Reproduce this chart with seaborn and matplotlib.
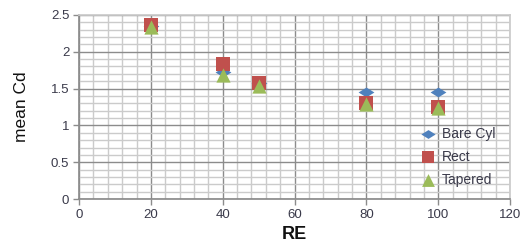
import pandas as pd
import matplotlib
matplotlib.use("Agg")
import matplotlib.pyplot as plt
from matplotlib.ticker import MultipleLocator
from matplotlib.path import Path
import seaborn as sns

# data
re_vals = [20, 40, 50, 80, 100]
bare_cyl = [2.35, 1.72, 1.57, 1.45, 1.45]
rect = [2.36, 1.83, 1.58, 1.30, 1.25]
tapered = [2.34, 1.68, 1.54, 1.29, 1.23]
series_names = ["Bare Cyl", "Rect", "Tapered"]

df = pd.DataFrame({
    "RE": re_vals * 3,
    "Cd": bare_cyl + rect + tapered,
    "series": [s for s in series_names for _ in re_vals],
})

sns.set_theme(style="white")
plt.rcParams["font.family"] = ["Liberation Sans", "DejaVu Sans"]

fig = plt.figure(figsize=(5.27, 2.44), dpi=100)
ax = fig.add_axes([0.150, 0.184, 0.818, 0.755])

# flat Excel-style diamond
diamond = Path([(-1, 0), (0, 0.62), (1, 0), (0, -0.62), (-1, 0)],
               [Path.MOVETO, Path.LINETO, Path.LINETO, Path.LINETO, Path.CLOSEPOLY])

colors = {"Bare Cyl": "#4f81bd", "Rect": "#c0504d", "Tapered": "#9bbb59"}
markers = {"Bare Cyl": diamond, "Rect": "s", "Tapered": "^"}
sizes = {"Bare Cyl": 130, "Rect": 100, "Tapered": 105}

for name in series_names:
    sub = df[df["series"] == name]
    sns.scatterplot(data=sub, x="RE", y="Cd", ax=ax, color=colors[name],
                    marker=markers[name], s=sizes[name], linewidth=0,
                    label=name, zorder=3)

ax.set_xlim(0, 120)
ax.set_ylim(0, 2.5)
ax.xaxis.set_major_locator(MultipleLocator(20))
ax.xaxis.set_minor_locator(MultipleLocator(4))
ax.yaxis.set_major_locator(MultipleLocator(0.5))
ax.yaxis.set_minor_locator(MultipleLocator(0.1))
ax.set_yticks([0, 0.5, 1, 1.5, 2, 2.5])
ax.set_yticklabels(["0", "0.5", "1", "1.5", "2", "2.5"])

ax.grid(which="minor", color="#cbcbcb", linewidth=1.0, zorder=0)
ax.grid(which="major", color="#8c8c8c", linewidth=1.0, zorder=0)
ax.set_axisbelow(True)

for side in ["left", "bottom"]:
    ax.spines[side].set_color("#8c8c8c")
for side in ["top", "right"]:
    ax.spines[side].set_color("#cbcbcb")

ax.tick_params(axis="both", which="major", length=4, width=1, color="#8c8c8c",
               labelsize=9.5, labelcolor="#3a3a4a", direction="out",
               bottom=True, left=True, pad=3)
ax.tick_params(which="minor", length=0)

ax.set_xlabel("RE", fontsize=13, fontweight="bold", color="#111111", labelpad=4)
ax.set_ylabel("mean Cd", fontsize=12.5, color="#111111", labelpad=16)

leg = ax.legend(loc="lower right", bbox_to_anchor=(0.985, 0.02), frameon=False,
                fontsize=10, handletextpad=0.0, labelspacing=0.65,
                borderaxespad=0.2, markerscale=0.9)
for t in leg.get_texts():
    t.set_color("#3a3a4a")

fig.savefig("out.png", dpi=100)
